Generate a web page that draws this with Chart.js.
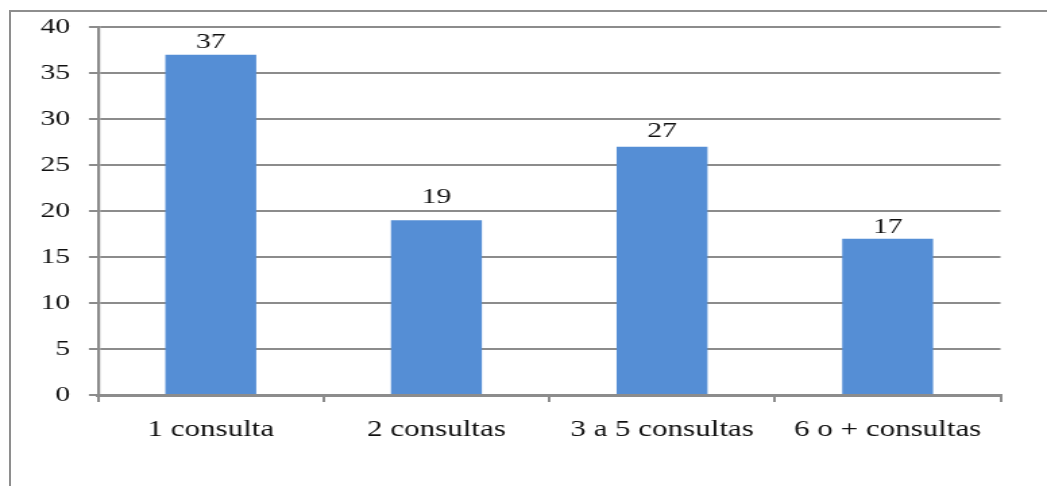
<!DOCTYPE html>
<html>
<head>
<meta charset="utf-8">
<script src="https://cdn.jsdelivr.net/npm/chart.js@4.4.0/dist/chart.umd.min.js"></script>
<style>
    html, body { margin: 0; padding: 0; background: #fff; overflow: hidden; }
    #marco {
        position: absolute; left: 9px; top: 10px; width: 1100px; height: 600px;
        border-left: 2px solid #8e8e8e; border-top: 2px solid #8e8e8e;
    }
    #grafico { position: absolute; left: 0; top: 0; }
</style>
</head>
<body>
<div id="marco"></div>
<!-- El lienzo se dibuja a 776px y se muestra a 1047px: letra ancha, como en el original -->
<canvas id="grafico" width="776" height="486" style="width:1047px;height:486px"></canvas>
<script>
const categorias = ['1 consulta', '2 consultas', '3 a 5 consultas', '6 o + consultas'];
const valores = [37, 19, 27, 17];
const marcasY = [0, 5, 10, 15, 20, 25, 30, 35, 40];

const GRIS = '#8c8c8c';
const AZUL = '#558ed5';
const TEXTO = '#111';

// Número encima de cada barra (la del 19 va algo más alta, sobre la línea del 20)
const etiquetasValor = {
    id: 'etiquetasValor',
    afterDatasetsDraw(chart) {
        const separacion = [7, 17, 10, 6];
        const ctx = chart.ctx;
        const meta = chart.getDatasetMeta(0);
        ctx.save();
        ctx.font = '22px "Liberation Serif"';
        ctx.fillStyle = TEXTO;
        ctx.textAlign = 'center';
        ctx.textBaseline = 'alphabetic';
        meta.data.forEach((barra, i) => {
            ctx.fillText(String(valores[i]), barra.x, barra.y - separacion[i]);
        });
        ctx.restore();
    }
};

new Chart(document.getElementById('grafico'), {
    type: 'bar',
    data: {
        labels: categorias,
        datasets: [{
            data: valores,
            backgroundColor: AZUL,
            borderWidth: 0,
            categoryPercentage: 1,
            barPercentage: 0.403
        }]
    },
    options: {
        responsive: false,
        devicePixelRatio: 1,
        animation: false,
        layout: { padding: { left: 0, top: 26, right: 34.5, bottom: 0 } },
        plugins: {
            legend: { display: false },
            tooltip: { enabled: false }
        },
        scales: {
            x: {
                offset: true,
                grid: {
                    offset: true,
                    drawOnChartArea: false,
                    color: GRIS,
                    lineWidth: 2,
                    tickLength: 7
                },
                border: { color: GRIS, width: 3 },
                ticks: {
                    color: TEXTO,
                    padding: 14,
                    maxRotation: 0,
                    font: { family: 'Liberation Serif', size: 23 }
                },
                afterFit(scale) { scale.height = 91; }
            },
            y: {
                min: 0,
                max: 40,
                afterBuildTicks(scale) {
                    scale.ticks = marcasY.map(v => ({ value: v }));
                },
                grid: {
                    color: GRIS,
                    lineWidth: 2,
                    tickLength: 6.7
                },
                border: { color: GRIS, width: 2.2 },
                ticks: {
                    color: TEXTO,
                    padding: 14,
                    font: { family: 'Liberation Serif', size: 22 }
                },
                afterFit(scale) { scale.width = 72.6; }
            }
        }
    },
    plugins: [etiquetasValor]
});
</script>
</body>
</html>
